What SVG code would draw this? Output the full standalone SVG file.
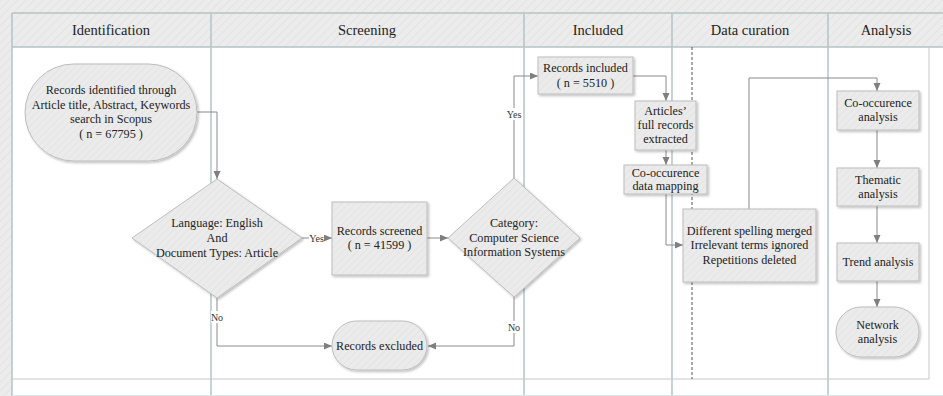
<svg xmlns="http://www.w3.org/2000/svg" width="943" height="396" viewBox="0 0 943 396">
<defs>
<pattern id="hatch" width="6" height="6" patternUnits="userSpaceOnUse" patternTransform="rotate(45)">
<rect width="6" height="6" fill="#ececec"/>
<line x1="0" y1="0" x2="0" y2="6" stroke="#e3e3e3" stroke-width="2"/>
</pattern>
<pattern id="nhatch" width="5" height="5" patternUnits="userSpaceOnUse" patternTransform="rotate(45)">
<rect width="5" height="5" fill="#ebebeb"/>
<line x1="0" y1="0" x2="0" y2="5" stroke="#e2e2e2" stroke-width="1.5"/>
</pattern>
<filter id="sh" x="-10%" y="-10%" width="130%" height="130%">
<feDropShadow dx="1.5" dy="1.5" stdDeviation="1" flood-color="#000" flood-opacity="0.25"/>
</filter>
<marker id="arr" markerUnits="userSpaceOnUse" markerWidth="9" markerHeight="8" refX="8" refY="3.5" orient="auto">
<path d="M0,0 L8,3.5 L0,7 z" fill="#7f7f7f"/>
</marker>
</defs>
<style>
.node{fill:url(#nhatch);stroke:#bdbdbd;stroke-width:1;filter:url(#sh)}
.t{font-family:"Liberation Serif","Times New Roman",serif;font-size:12.2px;fill:#222;text-anchor:middle}
.h{font-family:"Liberation Serif","Times New Roman",serif;font-size:14.5px;fill:#222;text-anchor:middle}
.lbl{font-family:"Liberation Serif","Times New Roman",serif;font-size:10px;fill:#333;text-anchor:middle}
.c{fill:none;stroke:#8a8a8a;stroke-width:1;marker-end:url(#arr)}
.cn{fill:none;stroke:#8a8a8a;stroke-width:1}
.lane{stroke:#b4c4c4;stroke-width:1.5}
.thin{stroke:#c8c8c8;stroke-width:1;fill:none}
</style>
<!-- background -->
<rect x="0" y="0" width="943" height="396" fill="url(#hatch)"/>
<rect x="12" y="47" width="931" height="349" fill="#ffffff"/>
<g id="pool">
<rect x="12" y="13" width="931" height="34" fill="url(#hatch)"/>
<line class="lane" x1="12" y1="13" x2="943" y2="13"/>
<line class="lane" x1="12" y1="47" x2="943" y2="47"/>
<line class="lane" x1="12" y1="13" x2="12" y2="396"/>
<line class="lane" x1="211" y1="13" x2="211" y2="396"/>
<line class="lane" x1="524" y1="13" x2="524" y2="396"/>
<line class="lane" x1="672" y1="13" x2="672" y2="396"/>
<line class="lane" x1="828" y1="13" x2="828" y2="396"/>
<polyline class="thin" points="12,379 929,379 929,47"/>
<line x1="12" y1="395.5" x2="943" y2="395.5" stroke="#dde6e6" stroke-width="1"/>
<line x1="692" y1="47" x2="692" y2="379" stroke="#555" stroke-width="1" stroke-dasharray="3,2"/>
<text class="h" x="111" y="35">Identification</text>
<text class="h" x="367" y="35">Screening</text>
<text class="h" x="598" y="35">Included</text>
<text class="h" x="750" y="35">Data curation</text>
<text class="h" x="886" y="35">Analysis</text>
</g>
<g id="connectors">
<path class="c" d="M197,112 H217 V179"/>
<path class="c" d="M302,238 H332"/>
<path class="c" d="M427,238 H448"/>
<path class="c" d="M514,178 V76 H538"/>
<path class="c" d="M514,297 V346 H428"/>
<path class="c" d="M217,298 V346 H332"/>
<path class="c" d="M633,76 H666 V101"/>
<path class="c" d="M666,150 V165"/>
<path class="c" d="M666,194 V245 H683"/>
<path class="c" d="M749,209 V78 H877 V91"/>
<path class="c" d="M877,130 V168"/>
<path class="c" d="M877,206 V243"/>
<path class="c" d="M877,281 V307"/>
<rect x="309" y="232" width="15" height="11" fill="#fff"/>
<text class="lbl" x="316.5" y="241.5">Yes</text>
<rect x="507" y="108" width="15" height="12" fill="#fff"/>
<text class="lbl" x="514" y="117.5">Yes</text>
<rect x="507" y="321" width="14" height="12" fill="#fff"/>
<text class="lbl" x="514" y="330.5">No</text>
<rect x="211" y="311" width="12" height="12" fill="#fff"/>
<text class="lbl" x="217" y="320.5">No</text>
</g>
<g id="n1">
<rect class="node" x="25" y="64" width="172" height="97" rx="48.5"/>
<text class="t" x="111" y="94">Records identified through</text>
<text class="t" x="111" y="108.5">Article title, Abstract, Keywords</text>
<text class="t" x="111" y="123">search in Scopus</text>
<text class="t" x="111" y="138">( n = 67795 )</text>
</g>
<g id="n2">
<polygon class="node" points="217,179 302,238 217,298 132,238"/>
<text class="t" x="217" y="227">Language: English</text>
<text class="t" x="217" y="242">And</text>
<text class="t" x="217" y="257">Document Types: Article</text>
</g>
<g id="n3">
<rect class="node" x="332" y="202" width="95" height="73"/>
<text class="t" x="379.5" y="235">Records screened</text>
<text class="t" x="379.5" y="249">( n = 41599 )</text>
</g>
<g id="n4">
<polygon class="node" points="514,178 580,238 514,297 448,238"/>
<text class="t" x="514" y="227">Category:</text>
<text class="t" x="514" y="242">Computer Science</text>
<text class="t" x="514" y="256">Information Systems</text>
</g>
<g id="n5">
<rect class="node" x="332" y="321" width="95" height="49" rx="24.5"/>
<text class="t" x="379.5" y="350">Records excluded</text>
</g>
<g id="n6">
<rect class="node" x="538" y="57" width="95" height="37"/>
<text class="t" x="585.5" y="72">Records included</text>
<text class="t" x="585.5" y="87">( n = 5510 )</text>
</g>
<g id="n7">
<rect class="node" x="635" y="101" width="61" height="49"/>
<text class="t" x="665.5" y="115">Articles’</text>
<text class="t" x="665.5" y="129">full records</text>
<text class="t" x="665.5" y="143">extracted</text>
</g>
<g id="n8">
<rect class="node" x="624" y="165" width="83" height="29"/>
<text class="t" x="665.5" y="177">Co-occurence</text>
<text class="t" x="665.5" y="190">data mapping</text>
</g>
<g id="n9">
<rect class="node" x="683" y="209" width="133" height="73"/>
<text class="t" x="749.5" y="235">Different spelling merged</text>
<text class="t" x="749.5" y="249">Irrelevant terms ignored</text>
<text class="t" x="749.5" y="264">Repetitions deleted</text>
</g>
<g id="n10">
<rect class="node" x="837" y="91" width="82" height="39"/>
<text class="t" x="878" y="107">Co-occurence</text>
<text class="t" x="878" y="121">analysis</text>
</g>
<g id="n11">
<rect class="node" x="837" y="168" width="82" height="38"/>
<text class="t" x="878" y="184">Thematic</text>
<text class="t" x="878" y="198">analysis</text>
</g>
<g id="n12">
<rect class="node" x="837" y="243" width="82" height="38"/>
<text class="t" x="878" y="266">Trend analysis</text>
</g>
<g id="n13">
<rect class="node" x="836" y="307" width="83" height="50" rx="25"/>
<text class="t" x="877.5" y="329">Network</text>
<text class="t" x="877.5" y="343">analysis</text>
</g>
</svg>
